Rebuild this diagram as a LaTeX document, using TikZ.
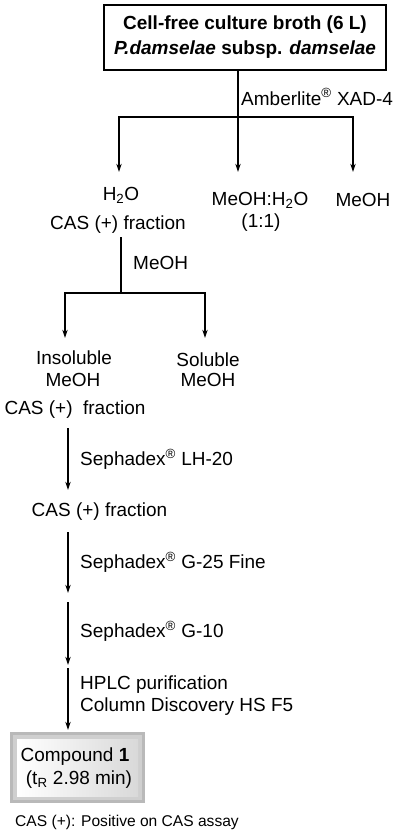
\documentclass[tikz,border=0pt]{standalone}
\usepackage{fontspec}
\setmainfont{Liberation Sans}
\usetikzlibrary{arrows.meta}

\begin{document}
\begin{tikzpicture}[x=0.03cm,y=-0.03cm,>={Stealth[length=7pt,width=4.5pt]},
    every node/.style={font=\fontsize{16.2}{19.5}\selectfont,inner sep=0pt},
    flow/.style={line width=0.9pt},
    steplabel/.style={anchor=west}]
    \useasboundingbox (0,0) rectangle (403,836);

    % Starting material
    \node[draw,line width=1pt,minimum width=8.46cm,minimum height=1.95cm,align=center,
          font=\fontsize{16.2}{21.3}\selectfont\bfseries] (broth) at (245,37.5)
        {Cell-free culture broth (6 L)\\ \textit{P.damselae} subsp. \textit{damselae}};

    % Branch points and arrow ends
    \coordinate (j0) at (238,117);
    \coordinate (aq) at (119,172);
    \coordinate (mx) at (238,172);
    \coordinate (me) at (353,172);
    \coordinate (s1) at (121,237);
    \coordinate (j1) at (121,293);
    \coordinate (ins) at (65,338);
    \coordinate (sol) at (205,338);

    % XAD-4 step
    \draw[flow] (broth.south -| j0) -- (j0);
    \draw[flow,->] (j0) -| (aq);
    \draw[flow,->] (j0) -- (mx);
    \draw[flow,->] (j0) -| (me);
    \node[steplabel] (xad) at (241,97) {Amberlite\textsuperscript{®} XAD-4};

    % Fractions
    \node (h2o) at (121,195) {H\textsubscript{2}O};
    \node (cas1) at (118,225) {CAS (+) fraction};
    \node (mix1) at (260,200) {MeOH:H\textsubscript{2}O};
    \node (mix2) at (261,223) {(1:1)};
    \node (meoh) at (363,200) {MeOH};

    % MeOH step
    \draw[flow] (s1) -- (j1);
    \draw[flow,->] (j1) -| (ins);
    \draw[flow,->] (j1) -| (sol);
    \node[steplabel] (wash) at (133,263) {MeOH};

    \node (ins1) at (74,358) {Insoluble};
    \node (ins2) at (73,380) {MeOH};
    \node (cas2) at (75,410) {CAS (+)\ \ fraction};
    \node (sol1) at (208,360) {Soluble};
    \node (sol2) at (208,380) {MeOH};

    % Column steps
    \coordinate (c1) at (68,428);
    \coordinate (c2) at (68,490);
    \coordinate (c3) at (68,532);
    \coordinate (c4) at (68,593);
    \coordinate (c5) at (68,602);
    \coordinate (c6) at (68,665);
    \coordinate (c7) at (68,668);
    \coordinate (c8) at (68,730);
    \draw[flow,->] (c1) -- (c2);
    \draw[flow,->] (c3) -- (c4);
    \draw[flow,->] (c5) -- (c6);
    \draw[flow,->] (c7) -- (c8);
    \node[steplabel] (lh) at (80,459) {Sephadex\textsuperscript{®} LH-20};
    \node (cas3) at (99.5,512) {CAS (+) fraction};
    \node[steplabel] (g25) at (80,562) {Sephadex\textsuperscript{®} G-25 Fine};
    \node[steplabel] (g10) at (80,631) {Sephadex\textsuperscript{®} G-10};
    \node[steplabel] (hplc) at (80,685) {HPLC purification};
    \node[steplabel] (col) at (80,707) {Column Discovery HS F5};

    % Final compound
    \fill[gray!55] (10,732) rectangle (145,803);
    \fill[gray!38] (13,735) rectangle (142,800);
    \shade[left color=white,right color=gray!30] (17,739) rectangle (138,796);
    \node (cmp1) at (75,757) {Compound \textbf{1}};
    \node (cmp2) at (79,780) {(t\textsubscript{R} 2.98 min)};

    % Note
    \node[anchor=west,font=\fontsize{13.3}{16}\selectfont] (note) at (15,822)
        {CAS (+): Positive on CAS assay};
\end{tikzpicture}
\end{document}
